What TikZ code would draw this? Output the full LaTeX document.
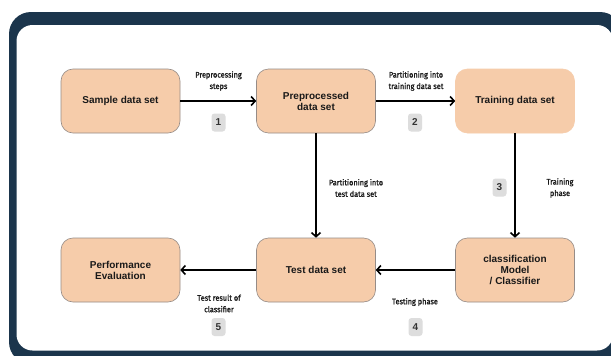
\documentclass[tikz,border=0pt]{standalone}
\usepackage{fontspec}
\setmainfont{Liberation Sans}
\newfontfamily\lblfont{Fira Sans}[FakeBold=1.3, FakeStretch=0.92]
\usetikzlibrary{arrows.meta}
\definecolor{navy}{RGB}{27,53,76}
\definecolor{peach}{RGB}{246,204,170}
\definecolor{boxline}{RGB}{150,140,135}
\definecolor{badge}{RGB}{221,221,221}
\tikzset{
  box/.style={draw=boxline, line width=0.6pt, fill=peach, rounded corners=12pt,
    minimum width=119pt, minimum height=64pt, align=center,
    font=\fontsize{10}{11}\selectfont\bfseries, text=black!90},
  lbl/.style={align=center, font=\lblfont\fontsize{8}{11.5}\selectfont, text=black!90, inner sep=0pt},
  badgebox/.style={fill=badge, rounded corners=3pt, minimum width=14pt, minimum height=18pt,
    inner sep=0pt, font=\fontsize{10}{10}\selectfont\bfseries, text=black!80},
  arr/.style={line width=1.8pt, -{Straight Barb[length=4pt,width=9pt,line width=1.6pt]}}
}
\begin{document}
\begin{tikzpicture}[x=1pt,y=-1pt]
\useasboundingbox (0,0) rectangle (611,356);
\clip (0,0) rectangle (611,356);
\fill[white] (0,0) rectangle (611,356);
\fill[navy, rounded corners=22pt] (9,12) rectangle (622,364);
\fill[white, rounded corners=16pt] (16.5,25) rectangle (613,350.5);

\node[box] (sample) at (120.5,101) {Sample data set};
\node[box] (prep) at (316,101) {Preprocessed\\data set};
\node[box, draw=peach] (train) at (515,101) {Training data set};
\node[box] (perf) at (120.5,270) {Performance\\Evaluation};
\node[box] (test) at (316,270) {Test data set};
\node[box] (cls) at (515,270) {classification\\Model\\/ Classifier};

\draw[arr] (sample) -- (prep);
\draw[arr] (prep) -- (train);
\draw[arr] (prep) -- (test);
\draw[arr] (train) -- (cls);
\draw[arr] (cls) -- (test);
\draw[arr] (test) -- (perf);

\node[lbl] (l1) at (218.5,81) {Preprocessing\\steps};
\node[lbl] (l2) at (416,81) {Partitioning into\\training data set};
\node[lbl] (l3) at (356,188) {Partitioning into\\test data set};
\node[lbl] (l4) at (560,188) {Training\\phase};
\node[lbl] (l5) at (219,303.5) {Test result of\\classifier};
\node[lbl] (l6) at (415,302) {Testing phase};

\node[badgebox] (b1) at (218.5,122.5) {1};
\node[badgebox] (b2) at (415,122.5) {2};
\node[badgebox] (b3) at (499.5,187.5) {3};
\node[badgebox] (b4) at (415.5,327) {4};
\node[badgebox] (b5) at (218.5,327) {5};
\end{tikzpicture}
\end{document}
